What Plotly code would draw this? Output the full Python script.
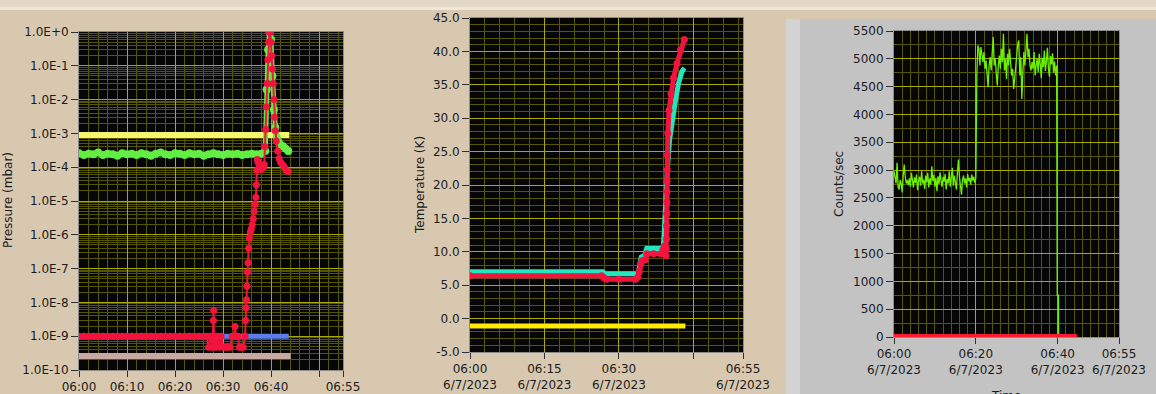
import pandas as pd
import plotly.graph_objects as go

W, H = 1156, 394
BASE = pd.Timestamp("2023-06-07 06:00:00")


def at(minutes):
    return [BASE + pd.Timedelta(minutes=float(m)) for m in minutes]


# ---------------- Panel 1 : Pressure (mbar) — minutes after 06:00 ----------------
press_yellow_t = [0.0, 43.8]
press_yellow_v = [9.0e-4, 9.0e-4]

press_green_t = [0, 1, 2, 3, 4, 5, 6, 7, 8, 9, 10, 11, 12, 13, 14, 15, 16, 17, 18, 19,
                 20, 21, 22, 23, 24, 25, 26, 27, 28, 29, 30, 31, 32, 33, 34, 35, 36, 37, 38,
                 38.8, 39.1, 39.4, 39.7, 40.0, 40.3, 40.6, 40.9, 41.2, 41.6, 42.0, 42.5, 43.0, 43.6]
press_green_v = [2.6e-4, 2.3e-4, 2.5e-4, 2.4e-4, 2.7e-4, 2.3e-4, 2.5e-4, 2.4e-4, 2.2e-4, 2.6e-4,
                 2.4e-4, 2.5e-4, 2.3e-4, 2.6e-4, 2.4e-4, 2.2e-4, 2.5e-4, 2.7e-4, 2.4e-4, 2.3e-4,
                 2.6e-4, 2.5e-4, 2.3e-4, 2.6e-4, 2.4e-4, 2.5e-4, 2.2e-4, 2.4e-4, 2.6e-4, 2.4e-4,
                 2.3e-4, 2.5e-4, 2.4e-4, 2.5e-4, 2.3e-4, 2.4e-4, 2.5e-4, 2.4e-4, 2.5e-4,
                 3.0e-4, 2.0e-2, 3.0e-1, 1.0, 6.0e-1, 5.0e-2, 5.0e-3, 1.5e-3, 8.0e-4, 5.5e-4,
                 4.5e-4, 4.2e-4, 3.6e-4, 3.0e-4]

press_blue_t = [0.0, 43.7]
press_blue_v = [1.0e-9, 1.0e-9]

press_tan_t = [0.0, 44.1]
press_tan_v = [2.6e-10, 2.6e-10]

press_red_t = [0, 1, 2, 3, 4, 5, 6, 7, 8, 9, 10, 11, 12, 13, 14, 15, 16, 17, 18, 19, 20,
               21, 22, 23, 24, 25, 26, 26.6, 27.0, 27.4, 27.8, 28.0, 28.05, 28.1, 28.4, 28.8,
               29.2, 29.6, 30.0, 30.5, 31.0, 31.5, 31.9, 32.3, 32.5, 32.7, 33.1, 33.4, 33.8,
               34.2, 34.6, 34.7, 34.8, 34.9, 35.0, 35.1, 35.2, 35.35, 35.5, 35.7, 35.9, 36.1,
               36.3, 36.5, 36.7, 36.85, 36.95, 37.05, 37.15, 37.3, 37.5, 37.8, 38.1, 38.4,
               38.6, 38.75, 38.9, 39.05, 39.2, 39.35, 39.5, 39.65, 39.85, 40.0, 40.15, 40.3,
               40.45, 40.6, 40.75, 40.9, 41.1, 41.4, 41.7, 42.0, 42.4, 42.8, 43.2, 43.6]
press_red_v = [1e-9, 1e-9, 1e-9, 1e-9, 1e-9, 1e-9, 1e-9, 1e-9, 1e-9, 1e-9, 1e-9,
               1e-9, 1e-9, 1e-9, 1e-9, 1e-9, 1e-9, 1e-9, 1e-9, 1e-9, 1e-9,
               1e-9, 1e-9, 1e-9, 1e-9, 1e-9, 1e-9, 1e-9, 4.7e-10, 1e-9, 4.7e-10, 2.9e-9,
               5.8e-9, 1e-9, 4.7e-10, 1e-9, 4.7e-10, 1e-9, 4.7e-10, 4.7e-10, 4.7e-10,
               4.7e-10, 1e-9, 1e-9, 1.95e-9, 1e-9, 1e-9, 4.7e-10, 4.7e-10, 4.7e-10,
               1e-9, 2.9e-9, 7e-9, 1.2e-8, 3e-8, 8e-8, 1.5e-7, 4e-7, 8e-7, 1.2e-6, 1.5e-6,
               2e-6, 3e-6, 5e-6, 8e-6, 1.3e-5, 3e-5, 8e-5, 1.7e-4, 1.4e-4, 9e-5, 8.5e-5,
               9e-5, 1e-4, 1.2e-4, 4e-4, 1.3e-3, 6e-3, 3e-2, 1.5e-1, 5e-1, 1.0, 1.0, 5e-1,
               2e-1, 8e-2, 3e-2, 1e-2, 3e-3, 1.2e-3, 6e-4, 3e-4, 1.8e-4, 1.4e-4, 1.2e-4,
               1e-4, 8e-5, 7.5e-5]

press_tickvals = [1e0, 1e-1, 1e-2, 1e-3, 1e-4, 1e-5, 1e-6, 1e-7, 1e-8, 1e-9, 1e-10]
press_ticktext = ["1.0E+0", "1.0E-1", "1.0E-2", "1.0E-3", "1.0E-4", "1.0E-5",
                  "1.0E-6", "1.0E-7", "1.0E-8", "1.0E-9", "1.0E-10"]
time1_tick_min = [0, 10, 20, 30, 40, 50, 55]
time1_ticktext = ["06:00", "06:10", "06:20", "06:30", "06:40", "", "06:55"]

# ---------------- Panel 2 : Temperature (K) ----------------
temp_cyan_t = [0, 5, 10, 15, 20, 26.8, 27.2, 30, 33.9, 34.2, 34.5, 35.2, 35.6, 37, 38.9,
               39.1, 39.25, 39.4, 39.5, 39.8, 40.2, 40.7, 41.4, 42.0, 42.7, 43.2]
temp_cyan_v = [7.0, 7.0, 7.0, 7.0, 7.0, 7.0, 6.7, 6.7, 6.7, 8.0, 9.2, 9.5, 10.5, 10.5, 10.5,
               12.5, 15.0, 17.0, 18.2, 22.7, 26.7, 29.7, 32.7, 35.2, 37.0, 37.5]

temp_red_t = [0, 26.5, 27.0, 27.5, 30, 33.3, 33.8, 34.1, 34.4, 34.7, 35.3,
              35.6, 37.0, 38.5, 38.9, 39.2, 39.45, 39.55, 39.6, 39.62, 39.64, 39.66, 39.68,
              39.7, 39.72, 39.75, 39.85, 40.1, 40.5, 41.0, 41.7, 42.4, 43.2]
temp_red_v = [6.4, 6.4, 6.1, 5.9, 5.9, 5.9, 6.2, 7.0, 8.2, 8.7, 8.8,
              9.7, 9.7, 9.7, 10.4, 10.9, 9.4, 10.5, 11.9, 13.9, 15.7, 17.4, 19.0,
              20.6, 22.3, 24.5, 27.7, 31.2, 33.7, 36.0, 38.2, 40.2, 41.8]

temp_yellow_t = [0.0, 43.4]
temp_yellow_v = [-1.1, -1.1]

temp_tickvals = [45, 40, 35, 30, 25, 20, 15, 10, 5, 0, -5]
temp_ticktext = ["45.0", "40.0", "35.0", "30.0", "25.0", "20.0", "15.0", "10.0", "5.0", "0.0", "-5.0"]
time2_tick_min = [0, 15, 30, 45, 55]
time2_ticktext = ["06:00<br>6/7/2023", "06:15<br>6/7/2023", "06:30<br>6/7/2023", "",
                  "06:55<br>6/7/2023"]

# ---------------- Panel 3 : Counts/sec ----------------
COUNTS_DT_MIN = 0.25
counts_seg1_t0 = 0.0
counts_seg1_v = [2980, 2830, 2760, 3130, 2700, 2650, 2820, 2760, 2600, 2900,
                 3100, 2880, 2760, 2820, 2730, 2850, 2700, 2950, 2810, 2690,
                 2870, 2770, 2920, 2640, 2800, 2880, 2720, 2980, 2760, 2830,
                 2660, 2900, 2780, 2950, 2690, 2850, 2740, 3070, 2800, 2910,
                 2700, 2860, 2620, 2890, 2750, 2960, 2810, 2700, 2880, 2790,
                 2930, 2650, 2840, 2760, 2980, 2700, 2870, 3040, 2720, 2900,
                 2780, 2650, 2950, 3190, 2880, 2720, 2560, 2830, 2900, 2760,
                 2850, 2690, 2930, 2800, 2860, 2740, 2920, 2810, 2880, 2770,
                 2850]
counts_seg2_t0 = 20.25
counts_seg2_v = [4700, 5240, 5180, 4880, 5210, 5090, 4940, 5120, 4820, 4970,
                 4700, 4490, 4880, 5030, 4790, 5120, 5390, 4880, 5000, 4730,
                 4520, 4880, 5060, 4820, 5180, 4940, 5450, 4790, 5000, 4640,
                 5090, 4880, 5180, 4940, 4700, 4820, 4460, 4640, 4880, 5120,
                 5270, 5330, 4700, 5030, 4280, 4760, 5120, 4880, 5240, 5450,
                 5030, 5180, 4880, 4790, 4940, 4820, 5120, 4700, 4880, 5000,
                 4760, 5090, 4900, 4650, 5020, 4850, 5150, 4780, 4950, 5200,
                 4820, 4680, 5050, 4900, 5100, 4750, 4950, 4700, 4880]
counts_tail_t = [39.9, 40.2, 40.25]
counts_tail_v = [750, 750, 0]

counts_red_t = [0.0, 44.7]
counts_red_v = [25, 25]

counts_tickvals = [5500, 5000, 4500, 4000, 3500, 3000, 2500, 2000, 1500, 1000, 500, 0]
counts_ticktext = [str(v) for v in counts_tickvals]
time3_tick_min = [0, 20, 40, 55]
time3_ticktext = ["06:00<br>6/7/2023", "06:20<br>6/7/2023", "06:40<br>6/7/2023",
                  "06:55<br>6/7/2023"]

counts_green_t = ([counts_seg1_t0 + COUNTS_DT_MIN * i for i in range(len(counts_seg1_v))]
                  + [counts_seg2_t0 + COUNTS_DT_MIN * i for i in range(len(counts_seg2_v))]
                  + counts_tail_t)
counts_green_v = counts_seg1_v + counts_seg2_v + counts_tail_v

# ---------------- styling ----------------
BG = "#D8C8B0"
PLOT_BG = "#060606"
MAJ = "#AAAA00"
MINC = "#565600"
FRAME = "#8C8C8C"
TXT = "#1C1C1C"
FONT = "DejaVu Sans"

RED = "#F3143E"


def dom_x(a, b):
    return [a / W, b / W]


def dom_y(top, bottom):
    return [1 - bottom / H, 1 - top / H]


fig = go.Figure()


def add(t, v, xa, ya, color, width, marker_size=None):
    mode = "lines+markers" if marker_size else "lines"
    fig.add_trace(go.Scatter(
        x=at(t), y=v, xaxis=xa, yaxis=ya, mode=mode,
        line=dict(color=color, width=width),
        marker=dict(color=color, size=marker_size or 1),
        showlegend=False, hoverinfo="skip"))


# panel 1
add(press_yellow_t, press_yellow_v, "x", "y", "#F6F66E", 6)
add(press_green_t, press_green_v, "x", "y", "#62EE42", 5, 8)
add(press_tan_t, press_tan_v, "x", "y", "#C8AAA2", 6)
add(press_blue_t, press_blue_v, "x", "y", "#5A7EEE", 5)
add(press_red_t, press_red_v, "x", "y", RED, 2, 7)
# panel 2
add(temp_yellow_t, temp_yellow_v, "x2", "y2", "#FFEC00", 5)
add(temp_cyan_t, temp_cyan_v, "x2", "y2", "#22E6C0", 5)
add(temp_red_t, temp_red_v, "x2", "y2", RED, 5, 7)
# panel 3
add(counts_green_t, counts_green_v, "x3", "y3", "#6CF000", 1.3)
add(counts_red_t, counts_red_v, "x3", "y3", "#FF1A2E", 3)

tickfont = dict(family=FONT, size=12, color=TXT)
x_end = BASE + pd.Timedelta(minutes=55)


def xcfg(domain, anchor, tick_min, ticktext, minor_min):
    return dict(
        domain=domain, anchor=anchor, type="date", range=[BASE, x_end],
        tickmode="array", tickvals=at(tick_min), ticktext=ticktext,
        ticks="outside", ticklen=6, tickcolor="#303030", tickwidth=1,
        tickfont=tickfont, showgrid=True, gridcolor=MAJ, gridwidth=1,
        showline=True, linecolor=FRAME, linewidth=1, mirror=True, zeroline=False,
        automargin=False,
        minor=dict(dtick=minor_min * 60000, tick0=BASE, showgrid=True,
                   gridcolor=MINC, gridwidth=1, ticks=""),
        fixedrange=True)


def ycfg(domain, anchor, rng, tickvals, ticktext, minor, typ="linear"):
    return dict(
        domain=domain, anchor=anchor, type=typ, range=rng,
        tickmode="array", tickvals=tickvals, ticktext=ticktext,
        ticks="outside", ticklen=7, tickcolor="#303030", tickwidth=1,
        tickfont=tickfont, showgrid=True, gridcolor=MAJ, gridwidth=1,
        showline=True, linecolor=FRAME, linewidth=1, mirror=True, zeroline=False,
        automargin=False, minor=minor, fixedrange=True)


fig.update_layout(
    width=W, height=H, margin=dict(l=0, r=0, t=0, b=0, pad=0, autoexpand=False),
    autosize=False, showlegend=False,
    paper_bgcolor=BG, plot_bgcolor=PLOT_BG,
    font=dict(family=FONT, size=12, color=TXT),
    xaxis=xcfg(dom_x(79, 343), "y", time1_tick_min, time1_ticktext, 2),
    yaxis=ycfg(dom_y(32, 370), "x", [-10, 0], press_tickvals, press_ticktext,
               dict(dtick="D1", showgrid=True, gridcolor=MINC, gridwidth=1, ticks=""), "log"),
    xaxis2=xcfg(dom_x(470, 743), "y2", time2_tick_min, time2_ticktext, 3),
    yaxis2=ycfg(dom_y(18, 352), "x2", [-5, 45], temp_tickvals, temp_ticktext,
                dict(dtick=1, tick0=0, showgrid=True, gridcolor=MINC, gridwidth=1, ticks="")),
    xaxis3=xcfg(dom_x(894, 1119), "y3", time3_tick_min, time3_ticktext, 2),
    yaxis3=ycfg(dom_y(31, 337), "x3", [0, 5500], counts_tickvals, counts_ticktext,
                dict(dtick=250, tick0=0, showgrid=True, gridcolor=MINC, gridwidth=1, ticks="")),
)

shapes = [
    dict(type="rect", xref="paper", yref="paper", x0=0, x1=1, y0=1 - 7 / H, y1=1,
         fillcolor="#E4D9C6", line=dict(width=0), layer="below"),
    dict(type="rect", xref="paper", yref="paper", x0=0, x1=1, y0=1 - 10 / H, y1=1 - 7 / H,
         fillcolor="#EFE7DA", line=dict(width=0), layer="below"),
    dict(type="rect", xref="paper", yref="paper", x0=786 / W, x1=1, y0=0, y1=1 - 19 / H,
         fillcolor="#C3C3C3", line=dict(width=0), layer="below"),
    dict(type="rect", xref="paper", yref="paper", x0=786 / W, x1=800 / W, y0=0, y1=1 - 19 / H,
         fillcolor="#D3D3D3", line=dict(width=0), layer="below"),
    dict(type="rect", xref="x3 domain", yref="y3 domain", x0=0, x1=1, y0=0, y1=1,
         fillcolor=PLOT_BG, line=dict(width=0), layer="below"),
]
fig.update_layout(shapes=shapes)

ann = dict(showarrow=False, font=dict(family=FONT, size=12, color=TXT),
           xref="paper", yref="paper")
fig.add_annotation(text="Pressure (mbar)", x=8 / W, y=1 - 200 / H, textangle=-90,
                   xanchor="center", yanchor="middle", **ann)
fig.add_annotation(text="Temperature (K)", x=420 / W, y=1 - 185 / H, textangle=-90,
                   xanchor="center", yanchor="middle", **ann)
fig.add_annotation(text="Counts/sec", x=839 / W, y=1 - 184 / H, textangle=-90,
                   xanchor="center", yanchor="middle", **ann)
fig.add_annotation(text="Time", x=1006 / W, y=1 - 387 / H, xanchor="center",
                   yanchor="top", **ann)

page_fix = ("document.documentElement.style.margin='0';"
            "document.body.style.margin='0';"
            "document.body.style.overflow='hidden';"
            "document.documentElement.style.overflow='hidden';"
            "document.body.style.background='" + BG + "';")

fig.write_html("out.html", post_script=page_fix)
